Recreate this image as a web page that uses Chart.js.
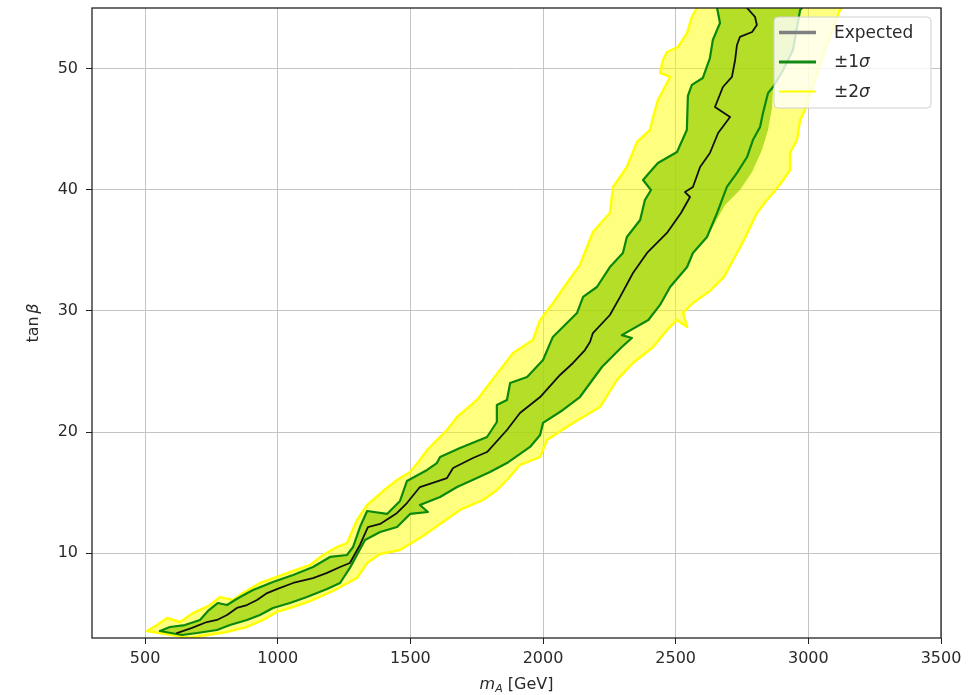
<!DOCTYPE html>
<html>
<head>
<meta charset="utf-8">
<script src="https://cdn.jsdelivr.net/npm/chart.js@4.4.0/dist/chart.umd.min.js"></script>
<style>
  body { margin: 0; background: #fff; }
  canvas { display: block; }
</style>
</head>
<body>
<canvas id="limitChart" width="974" height="695"></canvas>
<script>
// expected limit contour in the (m_A, tan beta) plane
const expectedMA = [620, 677, 733, 771, 809, 846, 884, 922, 960, 997, 1058, 1133, 1186, 1235, 1272, 1310, 1340, 1386, 1450, 1487,
  1536, 1638, 1661, 1736, 1789, 1864, 1913, 1989, 2064, 2113, 2158, 2177, 2188, 2252, 2290, 2339, 2392, 2467, 2520, 2554,
  2535, 2565, 2592, 2629, 2660, 2705, 2648, 2678, 2712, 2724, 2731, 2742, 2788, 2806, 2799, 2769];
const expectedTanB = [3.41, 3.83, 4.32, 4.49, 4.90, 5.48, 5.72, 6.14, 6.71, 7.04, 7.54, 7.95, 8.37, 8.86, 9.19, 10.68, 12.16, 12.41, 13.32, 14.14,
  15.46, 16.2, 17.03, 17.86, 18.35, 20.17, 21.57, 22.89, 24.71, 25.7, 26.77, 27.43, 28.17, 29.66, 31.14, 33.13, 34.78, 36.43, 38.08, 39.40,
  39.81, 40.22, 41.88, 43.03, 44.68, 46.0, 46.83, 48.48, 49.31, 50.71, 51.95, 52.61, 53.02, 53.6, 54.26, 55.0];

// +1 sigma edge (left side of the band)
const plus1MA = [556, 594, 650, 707, 737, 775, 809, 839, 858, 907, 982, 1058, 1133, 1197, 1261, 1284, 1310, 1337, 1412, 1461,
  1487, 1563, 1600, 1612, 1687, 1789, 1826, 1826, 1864, 1876, 1940, 2000, 2037, 2128, 2151, 2203, 2252, 2301, 2316, 2366,
  2384, 2407, 2377, 2403, 2433, 2505, 2542, 2546, 2561, 2602, 2629, 2640, 2667, 2656];
const plus1TanB = [3.58, 3.91, 4.07, 4.49, 5.23, 5.89, 5.72, 6.14, 6.38, 6.96, 7.62, 8.2, 8.86, 9.69, 9.85, 10.51, 12.16, 13.48, 13.24, 14.31,
  15.96, 16.87, 17.44, 17.94, 18.68, 19.59, 20.83, 22.23, 22.65, 24.05, 24.54, 25.95, 27.85, 29.82, 31.15, 31.97, 33.62, 34.78, 36.1, 37.5,
  39.15, 39.98, 40.8, 41.46, 42.21, 43.12, 44.93, 47.74, 48.65, 49.22, 50.87, 52.36, 53.76, 55.0];

// -1 sigma edge (right side of the band)
const minus1MA = [639, 696, 771, 820, 884, 933, 982, 1046, 1110, 1186, 1235, 1272, 1329, 1386, 1450, 1499, 1566, 1536, 1612, 1676,
  1751, 1800, 1864, 1951, 1989, 2000, 2075, 2139, 2222, 2297, 2335, 2297, 2397, 2441, 2479, 2543, 2565, 2618, 2656, 2693,
  2731, 2769, 2791, 2818, 2829, 2848, 2867, 2905, 2942, 2969, 2976];
const minus1TanB = [3.25, 3.41, 3.66, 4.07, 4.49, 4.90, 5.48, 5.89, 6.38, 7.04, 7.54, 8.78, 11.09, 11.75, 12.16, 13.24, 13.40, 13.98, 14.64, 15.46,
  16.2, 16.7, 17.44, 18.77, 19.76, 20.75, 21.82, 22.89, 25.37, 27.02, 27.76, 28.0, 29.25, 30.49, 31.97, 33.62, 34.78, 36.1, 38.08, 40.23,
  41.39, 42.7, 44.1, 45.18, 46.33, 47.99, 48.48, 49.88, 51.53, 54.84, 55.0];

// filled 1 sigma area reaches a little past its outline near the top
const fill1BulgeMA = [2686, 2742, 2788, 2825, 2848, 2863];
const fill1BulgeTanB = [38.74, 39.98, 41.46, 43.28, 44.93, 46.75];

// +2 sigma edge
const plus2MA = [507, 545, 583, 632, 681, 745, 783, 831, 869, 933, 997, 1058, 1122, 1171, 1223, 1261, 1299, 1337, 1397, 1450,
  1499, 1536, 1563, 1600, 1638, 1676, 1751, 1800, 1887, 1962, 1989, 2038, 2090, 2139, 2188, 2252, 2264, 2316, 2354, 2403,
  2415, 2433, 2467, 2479, 2441, 2452, 2467, 2509, 2543, 2561, 2580];
const plus2TanB = [3.58, 4.07, 4.65, 4.32, 5.06, 5.72, 6.38, 6.14, 6.71, 7.54, 8.04, 8.53, 9.03, 9.85, 10.51, 10.84, 12.74, 13.98, 15.13, 16.04,
  16.7, 17.69, 18.52, 19.34, 20.17, 21.24, 22.65, 24.05, 26.52, 27.6, 29.25, 30.65, 32.3, 33.79, 36.51, 38.08, 40.23, 41.88, 43.94, 44.93,
  46.0, 47.41, 48.81, 49.31, 49.64, 50.71, 51.37, 51.78, 52.94, 54.26, 55.0];

// -2 sigma edge
const minus2MA = [669, 733, 809, 884, 945, 997, 1058, 1122, 1208, 1299, 1337, 1386, 1461, 1536, 1612, 1687, 1774, 1827, 1864, 1913,
  1989, 2015, 2113, 2215, 2279, 2339, 2415, 2467, 2505, 2543, 2528, 2565, 2629, 2682, 2731, 2761, 2806, 2844, 2867, 2905,
  2931, 2931, 2957, 2969, 2987, 3025, 3063, 3119, 3127];
const minus2TanB = [3.0, 3.25, 3.5, 3.91, 4.49, 5.15, 5.56, 6.05, 6.88, 7.95, 9.19, 9.93, 10.26, 11.25, 12.41, 13.57, 14.39, 15.22, 16.04, 17.28,
  17.94, 19.34, 20.75, 22.07, 24.3, 25.7, 27.02, 28.42, 29.25, 28.67, 29.83, 30.65, 31.64, 32.8, 34.78, 36.02, 38.08, 39.15, 39.73, 40.8,
  41.63, 43.03, 44.1, 45.76, 46.58, 49.06, 51.53, 54.84, 55.0];

const xTicks = [500, 1000, 1500, 2000, 2500, 3000, 3500];
const yTicks = [10, 20, 30, 40, 50];
const legendLabels = ['Expected', '±1σ', '±2σ'];
const legendColors = ['#808080', '#138a13', '#ffff00'];
const legendWidths = [3.5, 3, 2];

const FONT = '"DejaVu Sans", sans-serif';

function toPoints(xs, ys) {
  return xs.map((x, i) => ({ x: x, y: ys[i] }));
}

// walk the upper edge from the top down, then the lower edge back up
function contourPath(upXs, upYs, lowXs, lowYs) {
  return toPoints(upXs, upYs).reverse().concat(toPoints(lowXs, lowYs));
}

const fill1MA = minus1MA.slice(0, 38).concat(fill1BulgeMA, minus1MA.slice(46));
const fill1TanB = minus1TanB.slice(0, 38).concat(fill1BulgeTanB, minus1TanB.slice(46));

const band1Line = contourPath(plus1MA, plus1TanB, minus1MA, minus1TanB);
const band2Line = contourPath(plus2MA, plus2TanB, minus2MA, minus2TanB);
const band1Area = contourPath(plus1MA, plus1TanB, fill1MA, fill1TanB);

// box around the plot area, drawn over the data like matplotlib spines
const frame = {
  id: 'frame',
  afterDatasetsDraw(chart) {
    const { ctx, chartArea: a } = chart;
    ctx.save();
    ctx.strokeStyle = '#222';
    ctx.lineWidth = 1.3;
    ctx.strokeRect(a.left, a.top, a.right - a.left, a.bottom - a.top);
    ctx.restore();
  }
};

function drawSigmaText(ctx, text, x, y, size) {
  const sigma = text.endsWith('σ');
  const plain = sigma ? text.slice(0, -1) : text;
  ctx.font = size + 'px ' + FONT;
  ctx.fillText(plain, x, y);
  if (sigma) {
    const w = ctx.measureText(plain).width;
    ctx.font = 'italic ' + size + 'px ' + FONT;
    ctx.fillText('σ', x + w, y);
  }
}

const cornerLegend = {
  id: 'cornerLegend',
  afterDraw(chart) {
    const { ctx, chartArea } = chart;
    const w = 157, h = 91;
    const left = chartArea.right - w - 10;
    const top = chartArea.top + 9;
    ctx.save();
    ctx.beginPath();
    ctx.roundRect(left, top, w, h, 4);
    ctx.fillStyle = 'rgba(255,255,255,0.8)';
    ctx.fill();
    ctx.strokeStyle = '#d0d0d0';
    ctx.lineWidth = 1;
    ctx.stroke();
    ctx.textBaseline = 'middle';
    ctx.fillStyle = '#2a2a2a';
    legendLabels.forEach((label, i) => {
      const y = top + 15.5 + i * 29.5;
      ctx.beginPath();
      ctx.strokeStyle = legendColors[i];
      ctx.lineWidth = legendWidths[i];
      ctx.moveTo(left + 5, y);
      ctx.lineTo(left + 42, y);
      ctx.stroke();
      drawSigmaText(ctx, label, left + 60, y + 1, 17);
    });
    ctx.restore();
  }
};

// axis titles with math-style italics and subscript
const axisTitles = {
  id: 'axisTitles',
  afterDraw(chart) {
    const { ctx, chartArea: a } = chart;
    ctx.save();
    ctx.fillStyle = '#2a2a2a';
    ctx.textBaseline = 'alphabetic';
    ctx.textAlign = 'left';

    const xParts = [
      { t: 'm', f: 'italic 16px ' + FONT, dy: 0 },
      { t: 'A', f: 'italic 11px ' + FONT, dy: 3 },
      { t: ' [GeV]', f: '16px ' + FONT, dy: 0 }
    ];
    let total = 0;
    xParts.forEach(p => { ctx.font = p.f; p.w = ctx.measureText(p.t).width; total += p.w; });
    let x = (a.left + a.right) / 2 - total / 2;
    xParts.forEach(p => { ctx.font = p.f; ctx.fillText(p.t, x, 689 + p.dy); x += p.w; });

    const yParts = [
      { t: 'tan', f: '16px ' + FONT },
      { t: ' ', f: '8px ' + FONT },
      { t: 'β', f: 'italic 16px ' + FONT }
    ];
    total = 0;
    yParts.forEach(p => { ctx.font = p.f; p.w = ctx.measureText(p.t).width; total += p.w; });
    ctx.translate(38, (a.top + a.bottom) / 2);
    ctx.rotate(-Math.PI / 2);
    x = -total / 2;
    yParts.forEach(p => { ctx.font = p.f; ctx.fillText(p.t, x, 0); x += p.w; });
    ctx.restore();
  }
};

const tickFont = { family: FONT, size: 16 };

new Chart(document.getElementById('limitChart'), {
  type: 'line',
  data: {
    datasets: [
      { label: 'Expected', data: toPoints(expectedMA, expectedTanB), borderColor: '#111', borderWidth: 1.8, fill: false, order: 0 },
      { label: '±1σ', data: band1Line, borderColor: '#0b880b', borderWidth: 2.2, fill: false, order: 1 },
      { label: '±2σ', data: band2Line, borderColor: '#ffff00', borderWidth: 2.4, fill: false, order: 2 },
      { label: '1σ band', data: band1Area, borderColor: 'transparent', borderWidth: 0,
        backgroundColor: 'rgba(146,206,0,0.68)', fill: 'shape', order: 3 },
      { label: '2σ band', data: band2Line, borderColor: 'transparent', borderWidth: 0,
        backgroundColor: 'rgba(255,255,0,0.5)', fill: 'shape', order: 4 }
    ]
  },
  options: {
    responsive: false,
    devicePixelRatio: 1,
    animation: false,
    events: [],
    layout: { autoPadding: false, padding: { left: 0, right: 33, top: 8, bottom: 0 } },
    elements: {
      point: { radius: 0 },
      line: { tension: 0, borderJoinStyle: 'round', borderCapStyle: 'round' }
    },
    plugins: {
      legend: { display: false },
      tooltip: { enabled: false },
      title: { display: false }
    },
    scales: {
      x: {
        type: 'linear',
        min: 300,
        max: 3500,
        afterBuildTicks: s => { s.ticks = xTicks.map(v => ({ value: v })); },
        afterFit: s => { s.height = 57; s.paddingLeft = 0; s.paddingRight = 0; },
        grid: { color: '#c4c4c4', lineWidth: 1, tickLength: 6, tickColor: '#222' },
        border: { display: false },
        ticks: { font: tickFont, color: '#2a2a2a', padding: 5, maxRotation: 0, autoSkip: false, callback: v => String(v) }
      },
      y: {
        type: 'linear',
        min: 3,
        max: 55,
        afterBuildTicks: s => { s.ticks = yTicks.map(v => ({ value: v })); },
        afterFit: s => { s.width = 92; s.paddingTop = 0; s.paddingBottom = 0; },
        grid: { color: '#c4c4c4', lineWidth: 1, tickLength: 6, tickColor: '#222' },
        border: { display: false },
        ticks: { font: tickFont, color: '#2a2a2a', padding: 8, autoSkip: false, callback: v => String(v) }
      }
    }
  },
  plugins: [frame, cornerLegend, axisTitles]
});
</script>
</body>
</html>
